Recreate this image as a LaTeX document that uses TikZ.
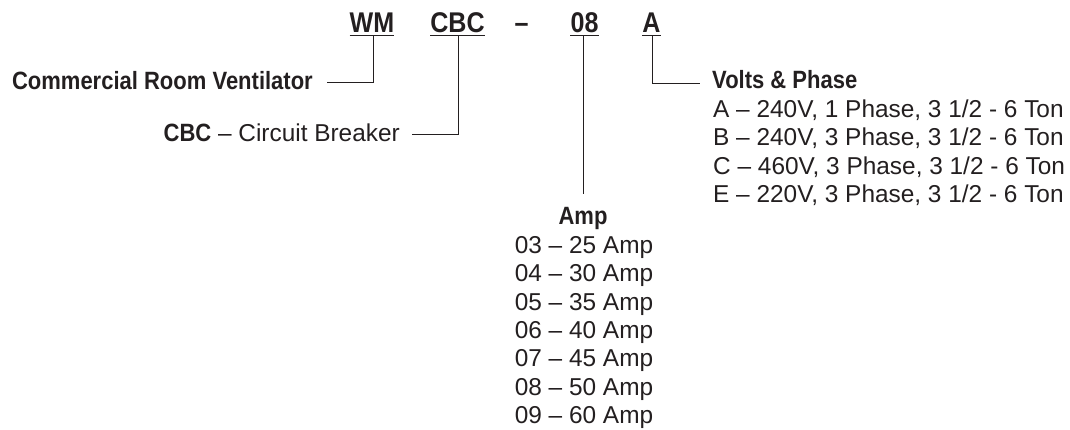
\documentclass[tikz,border=0pt]{standalone}
\usepackage{fontspec}
\setmainfont{Liberation Sans}
\newfontfamily\condfam{Liberation Sans}[FakeStretch=0.88]
\definecolor{ink}{HTML}{231F20}
\begin{document}
\begin{tikzpicture}[x=1pt,y=-1pt,
  code/.style={font=\fontsize{28.5}{30}\selectfont\condfam\bfseries, inner sep=0pt, anchor=base, text=ink},
  lab/.style={font=\fontsize{24.4}{28.3}\selectfont, inner sep=0pt, text=ink},
  hdr/.style={font=\fontsize{25}{28.3}\selectfont\condfam\bfseries, inner sep=0pt, text=ink},
  ln/.style={line width=1pt, draw=ink},
  ul/.style={line width=1.4pt, draw=ink}]
\useasboundingbox (0,0) rectangle (1070,430);
% code letters
\node[code] (wm)  at (372,33) {WM};
\node[code] (cbc) at (457.5,33) {CBC};
\node[code] (dsh) at (521.5,33) {–};
\node[code] (amp) at (584.5,33) {08};
\node[code] (vlt) at (651.5,33) {A};
\foreach \n in {wm,cbc,amp,vlt}
  \draw[ul] ([yshift=-2.5pt]\n.base west) -- ([yshift=-2.5pt]\n.base east);
% labels
\node[hdr, anchor=base east] (crv) at (313,90) {Commercial Room Ventilator};
\node[lab, anchor=base east] (cb) at (400,142) {{\fontsize{25}{28.3}\selectfont\condfam\bfseries CBC} – Circuit Breaker};
\node[hdr, anchor=base west] (vp) at (712,89) {Volts \& Phase};
\node[hdr, anchor=base] (ah) at (583,225) {Amp};
% volts rows
\foreach \t [count=\i from 0] in {{A – 240V, 1 Phase, 3 1/2 - 6 Ton},
  {B – 240V, 3 Phase, 3 1/2 - 6 Ton},
  {C – 460V, 3 Phase, 3 1/2 - 6 Ton},
  {E – 220V, 3 Phase, 3 1/2 - 6 Ton}}
  \node[lab, anchor=base west] (v\i) at (713,117.5+28.3*\i) {\t};
% amp rows
\foreach \t [count=\i from 0] in {03 – 25 Amp,04 – 30 Amp,05 – 35 Amp,06 – 40 Amp,07 – 45 Amp,08 – 50 Amp,09 – 60 Amp}
  \node[lab, anchor=base] (a\i) at (584,253.5+28.3*\i) {\t};
% connectors
\coordinate (wmc) at (373,83);
\coordinate (cbcc) at (458,135);
\coordinate (ampc) at (583,194);
\coordinate (vltc) at (652,84);
\coordinate (wmu) at (373,35.5);
\coordinate (cbcu) at (458,35.5);
\coordinate (ampu) at (583,35.5);
\coordinate (vltu) at (652,35.5);
\coordinate (crvr) at ([xshift=14pt]crv.east);
\coordinate (cbr) at ([xshift=12pt]cb.east);
\coordinate (vpl) at ([xshift=-12pt]vp.west);
\draw[ln] (wmu) -- (wmc) -- (wmc -| crvr);
\draw[ln] (cbcu) -- (cbcc) -- (cbcc -| cbr);
\draw[ln] (ampu) -- (ampc);
\draw[ln] (vltu) -- (vltc) -- (vltc -| vpl);
\end{tikzpicture}
\end{document}
